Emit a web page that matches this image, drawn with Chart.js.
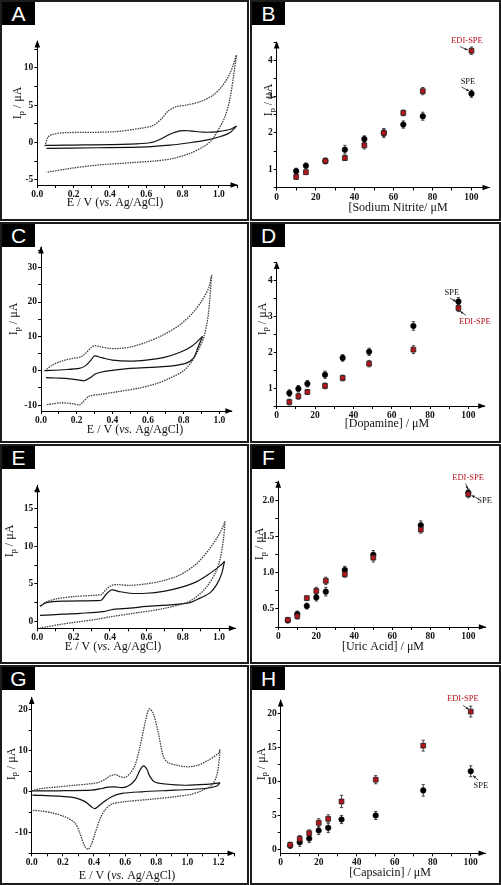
<!DOCTYPE html>
<html>
<head>
<meta charset="utf-8">
<title>CV and calibration panels</title>
<script src="https://cdn.jsdelivr.net/npm/chart.js@4.4.1/dist/chart.umd.min.js"></script>
<style>
  html, body { margin: 0; padding: 0; background: #fff; }
  #fig { position: relative; width: 501px; height: 885px; overflow: hidden; background: #fff; }
  .panel { position: absolute; }
  .panel canvas { position: absolute; left: 0; top: 0; }
  .frame { position: absolute; left: 0; top: 0; right: 0; bottom: 0; border: 2px solid #1c1c1c; box-sizing: border-box; pointer-events: none; }
  .tag { position: absolute; left: 2px; top: 2px; width: 33px; height: 23px; background: #000; color: #fff;
         font: 21px "Liberation Sans", Arial, sans-serif; line-height: 24px; text-align: center; }
</style>
</head>
<body>
<div id="fig"></div>
<script>
// ---- CV traces, [E (V), I (uA)] ----
// A: sodium nitrite
const aDotFwd = [[0.042,-0.5],[0.06,0.76],[0.088,1.1],[0.143,1.3],[0.418,1.43],[0.565,1.88],[0.64,2.3],[0.685,3.2],[0.72,4.2],[0.767,4.8],[0.82,5.0],[0.895,5.45],[0.96,6.2],[1.015,7.45],[1.06,9.2],[1.097,11.7]];
const aDotRev = [[1.097,11.7],[1.083,9.2],[1.06,5.7],[1.033,3.4],[0.996,1.65],[0.96,0.3],[0.914,-0.58],[0.84,-1.47],[0.749,-2.14],[0.657,-2.46],[0.51,-2.72],[0.327,-3.04],[0.18,-3.48],[0.051,-4.0]];
const aSolFwd = [[0.042,-0.4],[0.143,-0.36],[0.51,-0.22],[0.62,-0.04],[0.675,0.4],[0.73,1.1],[0.785,1.56],[0.84,1.56],[0.914,1.38],[0.987,1.43],[1.06,1.74],[1.097,2.19]];
const aSolRev = [[1.097,2.19],[1.06,1.3],[1.005,0.76],[0.932,0.31],[0.84,-0.04],[0.73,-0.36],[0.6,-0.58],[0.327,-0.71],[0.051,-0.8]];
// C: dopamine
const cDotFwd = [[0.02,0],[0.066,1.7],[0.12,2.9],[0.18,3.6],[0.225,4.1],[0.25,5.1],[0.28,6.7],[0.3,7.3],[0.33,7.0],[0.385,6.5],[0.44,6.5],[0.5,6.9],[0.59,8.3],[0.685,10.4],[0.78,13.4],[0.85,16.8],[0.9,20.2],[0.94,24.1],[0.957,27.8]];
const cDotRev = [[0.957,27.8],[0.938,16.3],[0.914,9.95],[0.882,6.0],[0.844,2.6],[0.797,-0.1],[0.72,-2.2],[0.65,-3.7],[0.553,-5.0],[0.44,-6.0],[0.33,-6.9],[0.27,-7.4],[0.235,-9.1],[0.216,-9.9],[0.18,-9.6],[0.12,-9.3],[0.066,-9.6],[0.028,-9.9]];
const cSolFwd = [[0.02,0],[0.12,0.3],[0.216,0.7],[0.25,1.5],[0.28,3.1],[0.3,4.3],[0.34,3.8],[0.4,3.1],[0.5,2.8],[0.59,3.1],[0.685,3.8],[0.78,5.4],[0.85,7.3],[0.906,10]];
const cSolRev = [[0.906,10],[0.882,7.0],[0.854,3.6],[0.807,2.1],[0.685,1.2],[0.5,0.7],[0.366,-0.1],[0.31,-0.8],[0.27,-2.2],[0.244,-2.9],[0.216,-2.7],[0.14,-2.2],[0.084,-2.1],[0.028,-2.0]];
// E: uric acid
const eDotFwd = [[0.015,2.0],[0.05,2.6],[0.106,3.0],[0.2,3.3],[0.33,3.5],[0.354,3.6],[0.38,4.3],[0.41,4.8],[0.437,4.9],[0.51,4.8],[0.6,5.0],[0.69,5.4],[0.785,6.2],[0.877,7.7],[0.95,9.75],[1.005,11.8],[1.033,13.3]];
const eDotRev = [[1.033,13.3],[1.024,10.9],[1.005,8.2],[0.978,6.4],[0.932,4.6],[0.877,3.3],[0.822,2.5],[0.694,1.7],[0.51,1.0],[0.4,0.6],[0.327,0.27],[0.143,-0.35],[0.015,-0.9]];
const eSolFwd = [[0.015,2.0],[0.05,2.5],[0.143,2.7],[0.327,2.75],[0.354,2.85],[0.38,3.65],[0.41,4.2],[0.446,4.0],[0.51,3.75],[0.6,3.75],[0.694,4.0],[0.785,4.5],[0.877,5.3],[0.95,6.4],[1.005,7.4],[1.03,8.0]];
const eSolRev = [[1.03,8.0],[1.015,6.4],[0.987,4.9],[0.95,3.8],[0.895,3.1],[0.84,2.5],[0.73,2.2],[0.6,2.0],[0.51,1.75],[0.418,1.6],[0.363,1.3],[0.235,1.07],[0.143,0.95],[0.015,0.8]];
// G: capsaicin
const gDotFwd = [[0,0.25],[0.064,0.8],[0.17,1.2],[0.28,1.6],[0.386,2.0],[0.43,2.3],[0.47,3.0],[0.5,3.8],[0.536,4.2],[0.568,3.7],[0.6,3.5],[0.632,4.5],[0.664,6.5],[0.696,11.0],[0.73,17.1],[0.754,20.2],[0.78,19.2],[0.814,14.3],[0.846,8.6],[0.878,7.1],[0.943,6.4],[1.007,6.1],[1.07,6.5],[1.135,7.7],[1.2,9.4],[1.21,10.35]];
const gDotRev = [[1.21,10.35],[1.206,8.15],[1.19,4.1],[1.157,1.6],[1.1,0.4],[1.03,-0.57],[0.92,-1.2],[0.77,-1.8],[0.6,-2.4],[0.514,-3.0],[0.47,-4.5],[0.44,-6.5],[0.407,-10.2],[0.386,-12.6],[0.364,-14.0],[0.343,-13.4],[0.31,-10.2],[0.28,-7.7],[0.214,-6.1],[0.128,-5.1],[0.064,-4.7],[0.004,-4.5]];
const gSolFwd = [[0,0.25],[0.17,0.25],[0.386,0.4],[0.45,0.8],[0.49,1.15],[0.536,1.2],[0.58,1.0],[0.62,1.4],[0.664,2.85],[0.696,5.3],[0.718,6.3],[0.74,5.5],[0.76,3.7],[0.79,2.4],[0.857,1.9],[0.986,1.6],[1.114,1.8],[1.21,2.2]];
const gSolRev = [[1.21,2.2],[1.19,1.4],[1.114,0.8],[0.92,0.4],[0.707,0],[0.58,-0.4],[0.514,-1.2],[0.45,-2.85],[0.407,-4.1],[0.386,-3.7],[0.343,-2.4],[0.28,-1.5],[0.17,-1.06],[0.004,-0.8]];

// ---- calibration points (uM, uA) ----
const nitriteConc = [10, 15, 25, 35, 45, 55, 65, 75, 100];
const nitriteSPE = [0.95, 1.10, 1.23, 1.54, 1.83, 2.00, 2.23, 2.46, 3.08];
const nitriteSPEErr = [0.08, 0.07, 0.07, 0.12, 0.09, 0.10, 0.10, 0.11, 0.10];
const nitriteEDI = [0.79, 0.92, 1.23, 1.31, 1.66, 2.00, 2.55, 3.15, 4.26];
const nitriteEDIErr = [0.06, 0.06, 0.08, 0.07, 0.10, 0.12, 0.08, 0.10, 0.10];

const dopamineConc = [6.6, 11.3, 16, 25.2, 34.4, 48.2, 71.3, 94.8];
const dopamineSPE = [0.86, 0.98, 1.12, 1.37, 1.84, 2.01, 2.73, 3.41];
const dopamineSPEErr = [0.09, 0.09, 0.09, 0.10, 0.09, 0.10, 0.12, 0.11];
const dopamineEDI = [0.61, 0.77, 0.89, 1.06, 1.28, 1.68, 2.07, 3.23];
const dopamineEDIErr = [0.08, 0.08, 0.07, 0.08, 0.08, 0.09, 0.11, 0.10];

const uricConc = [5, 10, 15, 20, 25, 35, 50, 75, 100];
const uricSPE = [0.34, 0.43, 0.54, 0.66, 0.74, 1.04, 1.25, 1.66, 2.11];
const uricSPEErr = [0.03, 0.04, 0.04, 0.05, 0.06, 0.05, 0.06, 0.06, 0.05];
const uricEDI = [0.35, 0.40, 0.65, 0.75, 0.89, 0.98, 1.21, 1.60, 2.09];
const uricEDIErr = [0.03, 0.04, 0.03, 0.05, 0.05, 0.04, 0.06, 0.05, 0.05];

const capsConc = [5, 10, 15, 20, 25, 32, 50, 75, 100];
const capsSPE = [0.55, 1.03, 1.58, 2.76, 3.15, 4.38, 4.98, 8.67, 11.5];
const capsSPEErr = [0.4, 0.6, 0.6, 0.6, 0.7, 0.6, 0.6, 0.85, 0.8];
const capsEDI = [0.64, 1.53, 2.36, 3.90, 4.48, 7.04, 10.25, 15.27, 20.3];
const capsEDIErr = [0.4, 0.5, 0.5, 0.6, 0.6, 0.9, 0.6, 0.8, 0.8];

const SERIF = '"Liberation Serif", "Times New Roman", serif';
const RED = '#b3151d';
const INK = '#111';

// axis titles
const cvXTitle = [{ t: 'E / V (' }, { t: 'vs.', italic: true }, { t: ' Ag/AgCl)' }];
const ipTitle = [{ t: 'I' }, { t: 'p', sub: true }, { t: ' / μA' }];

function toPts(pairs) {
    return pairs.map(([x, y]) => ({ x, y }));
}

function cvSeries(dotFwd, dotRev, solFwd, solRev) {
    const dotted = { borderColor: '#404040', borderWidth: 1.3, borderDash: [1.5, 1] };
    const solid = { borderColor: INK, borderWidth: 1.2 };
    const base = d => ({ data: toPts(d), showLine: true, pointRadius: 0, tension: 0.3, clip: false });
    return [
        Object.assign(base(dotFwd), dotted),
        Object.assign(base(dotRev), dotted),
        Object.assign(base(solFwd), solid),
        Object.assign(base(solRev), solid)
    ];
}

// EDI-SPE first so the red squares sit on top
function calSeries(conc, edi, ediErr, spe, speErr) {
    return [
        {
            data: conc.map((x, i) => ({ x, y: edi[i] })), errors: ediErr,
            pointStyle: 'rect', pointRadius: 3.4, backgroundColor: RED, borderColor: '#222', borderWidth: 0.8
        },
        {
            data: conc.map((x, i) => ({ x, y: spe[i] })), errors: speErr,
            pointStyle: 'circle', pointRadius: 2.8, backgroundColor: '#000', borderColor: '#000', borderWidth: 0.5
        }
    ];
}

const panels = [
    { tag: 'A', left: 0, top: 0, w: 249, h: 221, area: { l: 37.3, r: 237, t: 41, b: 185 },
      x: { min: 0, max: 1.1, step: 0.1, major: 0.2, dec: 1 }, y: { min: -5.7, max: 13.6, step: 2.5, major: 5, dec: 0 },
      series: cvSeries(aDotFwd, aDotRev, aSolFwd, aSolRev),
      xTitle: { parts: cvXTitle, at: [115, 203] }, yTitle: { parts: ipTitle, at: [18, 103] } },
    { tag: 'B', left: 250, top: 0, w: 251, h: 221, area: { l: 26.7, r: 239, t: 42, b: 187.5 },
      x: { min: 0, max: 109, step: 10, major: 20, dec: 0 }, y: { min: 0.5, max: 4.5, step: 0.5, major: 1, dec: 0 },
      series: calSeries(nitriteConc, nitriteEDI, nitriteEDIErr, nitriteSPE, nitriteSPEErr),
      xTitle: { parts: [{ t: '[Sodium Nitrite/ μM' }], at: [148, 208] }, yTitle: { parts: ipTitle, at: [19, 100] },
      notes: [
          { ds: 0, idx: 8, text: 'EDI-SPE', color: RED, tx: -4.5, ty: -10, arrow: [-11.3, -4, -3.7, -0.7] },
          { ds: 1, idx: 8, text: 'SPE', color: INK, tx: -3.5, ty: -12.3, arrow: [-10, -6.6, -2.3, -2.6] }
      ] },
    { tag: 'C', left: 0, top: 222, w: 249, h: 221, area: { l: 41, r: 231.8, t: 25, b: 189 },
      x: { min: 0, max: 1.07, step: 0.1, major: 0.2, dec: 1 }, y: { min: -11.7, max: 36, step: 5, major: 10, dec: 0 },
      series: cvSeries(cDotFwd, cDotRev, cSolFwd, cSolRev),
      xTitle: { parts: cvXTitle, at: [135, 208] }, yTitle: { parts: ipTitle, at: [14, 97] } },
    { tag: 'D', left: 250, top: 222, w: 251, h: 221, area: { l: 26.7, r: 234.7, t: 40.4, b: 184 },
      x: { min: 0, max: 108.5, step: 10, major: 20, dec: 0 }, y: { min: 0.5, max: 4.5, step: 0.5, major: 1, dec: 0 },
      series: calSeries(dopamineConc, dopamineEDI, dopamineEDIErr, dopamineSPE, dopamineSPEErr),
      xTitle: { parts: [{ t: '[Dopamine] / μM' }], at: [137, 202] }, yTitle: { parts: ipTitle, at: [12.7, 97] },
      notes: [
          { ds: 1, idx: 7, text: 'SPE', color: INK, tx: -6.6, ty: -8.3, arrow: [-8.3, -3.3, -2.3, 0] },
          { ds: 0, idx: 7, text: 'EDI-SPE', color: RED, tx: 16.4, ty: 13.3, arrow: [7.7, 7.3, 1.7, 3.3] }
      ] },
    { tag: 'E', left: 0, top: 444, w: 249, h: 220, area: { l: 37.3, r: 235.4, t: 41.7, b: 184.3 },
      x: { min: 0, max: 1.09, step: 0.1, major: 0.2, dec: 1 }, y: { min: -0.93, max: 18.1, step: 2.5, major: 5, dec: 0 },
      series: cvSeries(eDotFwd, eDotRev, eSolFwd, eSolRev),
      xTitle: { parts: cvXTitle, at: [113, 203] }, yTitle: { parts: ipTitle, at: [10, 97] } },
    { tag: 'F', left: 250, top: 444, w: 251, h: 220, area: { l: 28.3, r: 235.4, t: 37.2, b: 183 },
      x: { min: 0, max: 109, step: 10, major: 20, dec: 0 }, y: { min: 0.25, max: 2.27, step: 0.25, major: 0.5, dec: 1 },
      series: calSeries(uricConc, uricEDI, uricEDIErr, uricSPE, uricSPEErr),
      xTitle: { parts: [{ t: '[Uric Acid] / μM' }], at: [133, 203] }, yTitle: { parts: ipTitle, at: [10, 100] },
      notes: [
          { ds: 0, idx: 8, text: 'EDI-SPE', color: RED, tx: -0.2, ty: -16, arrow: [-2.7, -10.7, -0.4, -5] },
          { ds: 1, idx: 8, text: 'SPE', color: INK, tx: 16.3, ty: 8, arrow: [10, 6, 3.3, 2.7] }
      ] },
    { tag: 'G', left: 0, top: 665, w: 249, h: 220, area: { l: 31.7, r: 234, t: 32.5, b: 188.3 },
      x: { min: 0, max: 1.3, step: 0.1, major: 0.2, dec: 1 }, y: { min: -15, max: 23, step: 5, major: 10, dec: 0 },
      series: cvSeries(gDotFwd, gDotRev, gSolFwd, gSolRev),
      xTitle: { parts: cvXTitle, at: [127, 210.5] }, yTitle: { parts: ipTitle, at: [11.7, 99] } },
    { tag: 'H', left: 250, top: 665, w: 251, h: 220, area: { l: 30.7, r: 235, t: 35, b: 188.3 },
      x: { min: 0, max: 107.5, step: 10, major: 20, dec: 0 }, y: { min: -0.6, max: 22, step: 2.5, major: 5, dec: 0 },
      series: calSeries(capsConc, capsEDI, capsEDIErr, capsSPE, capsSPEErr),
      xTitle: { parts: [{ t: '[Capsaicin] / μM' }], at: [140, 208] }, yTitle: { parts: ipTitle, at: [11.7, 99] },
      notes: [
          { ds: 0, idx: 8, text: 'EDI-SPE', color: RED, tx: -7.9, ty: -12.5, arrow: [-7.7, -6.3, -2, -2] },
          { ds: 1, idx: 8, text: 'SPE', color: INK, tx: 10, ty: 14.5, arrow: [7.3, 8.7, 2.3, 4.4] }
      ] }
];

/**
 * Mixed-style text (italic runs, subscripts), centred on 0,0
 */
function drawParts(ctx, parts, size) {
    const fontOf = p => `${p.italic ? 'italic ' : ''}${p.sub ? size * 0.7 : size}px ${SERIF}`;
    let total = 0;
    const widths = parts.map(p => {
        ctx.font = fontOf(p);
        const w = ctx.measureText(p.t).width;
        total += w;
        return w;
    });
    let x = -total / 2;
    parts.forEach((p, i) => {
        ctx.font = fontOf(p);
        ctx.fillText(p.t, x, p.sub ? size * 0.3 : 0);
        x += widths[i];
    });
}

function arrowLine(ctx, x0, y0, x1, y1) {
    const a = Math.atan2(y1 - y0, x1 - x0);
    ctx.beginPath();
    ctx.moveTo(x0, y0);
    ctx.lineTo(x1, y1);
    ctx.stroke();
    ctx.beginPath();
    ctx.moveTo(x1, y1);
    ctx.lineTo(x1 - 3 * Math.cos(a) + 1.3 * Math.sin(a), y1 - 3 * Math.sin(a) - 1.3 * Math.cos(a));
    ctx.lineTo(x1 - 3 * Math.cos(a) - 1.3 * Math.sin(a), y1 - 3 * Math.sin(a) + 1.3 * Math.cos(a));
    ctx.closePath();
    ctx.fill();
}

const figureDecor = {
    id: 'figureDecor',
    beforeDatasetsDraw(chart) {
        const ctx = chart.ctx, xs = chart.scales.x, ys = chart.scales.y;
        ctx.save();
        ctx.strokeStyle = '#444';
        ctx.lineWidth = 1;
        chart.data.datasets.forEach(ds => {
            if (!ds.errors) return;
            ds.data.forEach((pt, i) => {
                const px = xs.getPixelForValue(pt.x);
                const y0 = ys.getPixelForValue(pt.y - ds.errors[i]);
                const y1 = ys.getPixelForValue(pt.y + ds.errors[i]);
                ctx.beginPath();
                ctx.moveTo(px, y0); ctx.lineTo(px, y1);
                ctx.moveTo(px - 1.6, y0); ctx.lineTo(px + 1.6, y0);
                ctx.moveTo(px - 1.6, y1); ctx.lineTo(px + 1.6, y1);
                ctx.stroke();
            });
        });
        ctx.restore();
    },
    afterDraw(chart, args, o) {
        const ctx = chart.ctx;
        const { left, right, top, bottom } = chart.chartArea;
        ctx.save();
        ctx.fillStyle = '#000';

        // axis arrowheads
        ctx.beginPath();
        ctx.moveTo(left, top - 1);
        ctx.lineTo(left - 2.8, top + 6.5);
        ctx.lineTo(left + 2.8, top + 6.5);
        ctx.closePath();
        ctx.fill();
        ctx.beginPath();
        ctx.moveTo(right + 1, bottom);
        ctx.lineTo(right - 6.5, bottom - 2.8);
        ctx.lineTo(right - 6.5, bottom + 2.8);
        ctx.closePath();
        ctx.fill();

        // axis titles
        ctx.fillStyle = INK;
        ctx.textBaseline = 'middle';
        ctx.textAlign = 'left';
        ctx.save();
        ctx.translate(o.xTitle.at[0], o.xTitle.at[1]);
        drawParts(ctx, o.xTitle.parts, 12);
        ctx.restore();
        ctx.save();
        ctx.translate(o.yTitle.at[0], o.yTitle.at[1]);
        ctx.rotate(-Math.PI / 2);
        drawParts(ctx, o.yTitle.parts, 12);
        ctx.restore();

        // point labels with small arrows
        (o.notes || []).forEach(n => {
            const el = chart.getDatasetMeta(n.ds).data[n.idx];
            ctx.fillStyle = n.color;
            ctx.strokeStyle = '#222';
            ctx.lineWidth = 0.8;
            ctx.font = `8.5px ${SERIF}`;
            ctx.textAlign = 'center';
            ctx.fillText(n.text, el.x + n.tx, el.y + n.ty);
            ctx.fillStyle = '#222';
            arrowLine(ctx, el.x + n.arrow[0], el.y + n.arrow[1], el.x + n.arrow[2], el.y + n.arrow[3]);
        });
        ctx.restore();
    }
};

function isMajor(v, major) {
    const r = v / major;
    return Math.abs(r - Math.round(r)) < 1e-6;
}

function axisOptions(ax, pos, size) {
    return {
        type: 'linear',
        position: pos,
        min: ax.min,
        max: ax.max,
        border: { display: true, color: '#000', width: 1 },
        grid: { display: true, drawOnChartArea: false, drawTicks: true, tickLength: 3, color: '#000', lineWidth: 1 },
        ticks: {
            stepSize: ax.step,
            includeBounds: false,
            autoSkip: false,
            maxRotation: 0,
            padding: 1,
            color: INK,
            font: { family: SERIF, size: 9.5, weight: 'bold' },
            callback: v => isMajor(v, ax.major) ? Number(v).toFixed(ax.dec) : ''
        },
        afterFit: s => {
            if (pos === 'left') s.width = size; else s.height = size;
            s.paddingLeft = s.paddingRight = s.paddingTop = s.paddingBottom = 0;
        }
    };
}

function makePanel(p) {
    const fig = document.getElementById('fig');
    const wrap = document.createElement('div');
    wrap.className = 'panel';
    wrap.style.left = p.left + 'px';
    wrap.style.top = p.top + 'px';
    wrap.style.width = p.w + 'px';
    wrap.style.height = p.h + 'px';

    const canvas = document.createElement('canvas');
    canvas.width = p.w;
    canvas.height = p.h;
    canvas.style.width = p.w + 'px';
    canvas.style.height = p.h + 'px';
    wrap.appendChild(canvas);

    const frame = document.createElement('div');
    frame.className = 'frame';
    wrap.appendChild(frame);

    const tag = document.createElement('div');
    tag.className = 'tag';
    tag.textContent = p.tag;
    wrap.appendChild(tag);
    fig.appendChild(wrap);

    new Chart(canvas, {
        type: 'scatter',
        data: { datasets: p.series },
        options: {
            responsive: false,
            animation: false,
            events: [],
            layout: { padding: { left: 0, top: p.area.t, right: p.w - p.area.r, bottom: 0 } },
            plugins: {
                legend: { display: false },
                tooltip: { enabled: false },
                figureDecor: { xTitle: p.xTitle, yTitle: p.yTitle, notes: p.notes }
            },
            scales: {
                x: axisOptions(p.x, 'bottom', p.h - p.area.b),
                y: axisOptions(p.y, 'left', p.area.l)
            }
        },
        plugins: [figureDecor]
    });
}

panels.forEach(makePanel);
</script>
</body>
</html>
